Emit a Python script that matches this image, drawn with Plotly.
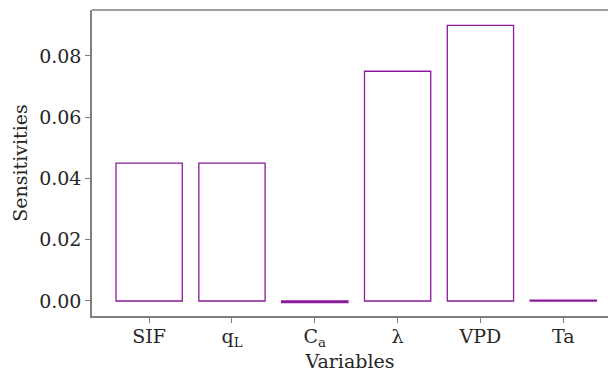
import plotly.graph_objects as go

categories = ["SIF", "q<sub>L</sub>", "C<sub>a</sub>", "λ", "VPD", "Ta"]
sensitivities = [0.045, 0.045, -0.0005, 0.075, 0.090, 0.0003]
ytick_vals = [0.0, 0.02, 0.04, 0.06, 0.08]
ytick_text = ["0.00", "0.02", "0.04", "0.06", "0.08"]

FONT = "DejaVu Serif"
AX = "#7f7f7f"

fig = go.Figure()
fig.add_trace(go.Bar(
    x=list(range(len(categories))),
    y=sensitivities,
    width=0.8,
    marker=dict(color="rgba(0,0,0,0)", line=dict(color="#8b1a9b", width=1.3)),
    showlegend=False,
))

fig.update_layout(
    width=608, height=372,
    margin=dict(l=92, r=0, t=10, b=56),
    plot_bgcolor="white", paper_bgcolor="white",
    font=dict(family=FONT, size=19, color="#262626"),
    xaxis=dict(
        range=[-0.69, 5.54],
        tickmode="array",
        tickvals=list(range(len(categories))),
        ticktext=categories,
        showline=True, linecolor=AX, linewidth=1.5,
        ticks="outside", ticklen=5, tickcolor=AX, tickwidth=1,
        ticklabelstandoff=-3,
        showgrid=False, zeroline=False,
        title=dict(text="Variables", standoff=9, font=dict(size=19)),
    ),
    yaxis=dict(
        range=[-0.0049, 0.0950],
        tickmode="array",
        tickvals=ytick_vals,
        ticktext=ytick_text,
        showline=True, linecolor=AX, linewidth=1.5,
        ticks="outside", ticklen=5, tickcolor=AX, tickwidth=1,
        showgrid=False, zeroline=False,
        title=dict(text="Sensitivities", standoff=6, font=dict(size=19)),
    ),
    shapes=[dict(type="line", xref="paper", yref="paper", x0=0, x1=1, y0=1, y1=1,
                 line=dict(color=AX, width=1.5))],
)

fig.write_html("out.html")
